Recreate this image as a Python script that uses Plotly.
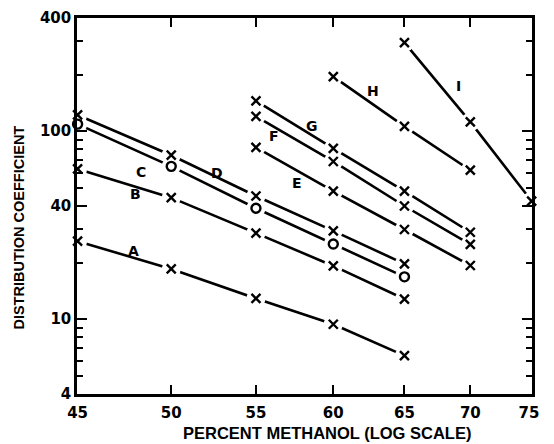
import numpy as np
import plotly.graph_objects as go

# ---- data ----
x_ad = [45, 50, 55, 60, 65]
x_eg = [55, 60, 65, 70]
x_h = [60, 65, 70]
x_i = [65, 70, 75]

A = [26, 18.5, 12.9, 9.4, 6.4]
B = [63, 44.3, 28.7, 19.2, 12.8]
C = [109, 65, 38.9, 25.1, 16.8]
D = [122, 74.5, 45.2, 29.5, 19.7]
E = [82, 48, 30, 19.3]
F = [120, 69, 40, 25]
G = [145, 81, 48, 29]
H = [195, 106, 62]
I = [296, 112, 42.5]

series_names = ["A", "B", "C", "D", "E", "F", "G", "H", "I"]
series_x = [x_ad, x_ad, x_ad, x_ad, x_eg, x_eg, x_eg, x_h, x_i]
series_y = [A, B, C, D, E, F, G, H, I]
series_marker = ["x", "x", "o", "x", "x", "x", "x", "x", "x"]

label_x = [47.9, 48.05, 48.3, 52.66, 57.6, 56.15, 58.6, 62.75, 69.05]
label_y = [23.1, 46.3, 60.5, 59.8, 52.9, 94, 107, 164, 175]
label_text = ["A", "B", "C", "D", "E", "F", "G", "H", "I"]

x_ticks = [45, 50, 55, 60, 65, 70, 75]
x_ticktext = ["45", "50", "55", "60", "65", "70", "75\u00a0"]
y_ticks = [4, 10, 40, 100, 400]
y_minor = [5, 6, 7, 8, 9, 20, 30, 50, 60, 70, 80, 90, 200, 300]

FONT = "DejaVu Sans"
TITLE_FONT = "Liberation Sans"

fig = go.Figure()

# lines
for xs, ys in zip(series_x, series_y):
    fig.add_trace(go.Scatter(x=xs, y=ys, mode="lines",
                             line=dict(color="black", width=2.6),
                             showlegend=False, hoverinfo="skip"))
# white gaps around markers
for xs, ys in zip(series_x, series_y):
    fig.add_trace(go.Scatter(x=xs, y=ys, mode="markers", cliponaxis=False,
                             marker=dict(symbol="circle", size=19, color="white",
                                         line=dict(width=0)),
                             showlegend=False, hoverinfo="skip"))
# markers
for xs, ys, mk in zip(series_x, series_y, series_marker):
    sym = "circle-open" if mk == "o" else "x-thin-open"
    fig.add_trace(go.Scatter(x=xs, y=ys, mode="markers", cliponaxis=False,
                             marker=dict(symbol=sym, size=9, color="black",
                                         line=dict(width=2.4, color="black")),
                             showlegend=False, hoverinfo="skip"))

for lx, ly, lt in zip(label_x, label_y, label_text):
    fig.add_annotation(x=np.log10(lx), y=np.log10(ly), text=lt, showarrow=False,
                       font=dict(family=FONT, size=14, color="black", weight="bold"))

# axis titles
fig.add_annotation(xref="paper", yref="paper", x=-0.128, y=0.442,
                   xanchor="center", yanchor="middle", borderpad=0,
                   text="DISTRIBUTION COEFFICIENT", textangle=-90, showarrow=False,
                   font=dict(family=TITLE_FONT, size=14.5, color="black", weight="bold"))
fig.add_annotation(xref="paper", yref="paper", x=0.55, y=-0.105,
                   xanchor="center", yanchor="middle", borderpad=0,
                   text="PERCENT METHANOL (LOG SCALE)", showarrow=False,
                   font=dict(family=TITLE_FONT, size=16.5, color="black", weight="bold"))

fig.update_layout(
    width=554, height=444,
    margin=dict(l=77, r=9, t=16, b=50),
    paper_bgcolor="white", plot_bgcolor="white",
    font=dict(family=FONT, color="black"),
)
fig.update_xaxes(
    type="log", range=[np.log10(44.97), np.log10(75.03)],
    tickmode="array", tickvals=x_ticks, ticktext=x_ticktext,
    ticks="inside", ticklen=9, tickwidth=2, tickcolor="black",
    ticklabeloverflow="allow", ticklabelstandoff=3,
    showline=True, linecolor="black", linewidth=2.5, mirror="ticks",
    showgrid=False, zeroline=False,
    tickfont=dict(family=FONT, size=15, color="black", weight="bold"),
)
fig.update_yaxes(
    type="log", range=[np.log10(4), np.log10(400)],
    tickmode="array", tickvals=y_ticks, ticktext=[str(v) for v in y_ticks],
    ticks="inside", ticklen=10, tickwidth=2, tickcolor="black",
    minor=dict(tickmode="array", tickvals=y_minor, ticks="inside", ticklen=6,
               tickwidth=2, tickcolor="black", showgrid=False),
    showline=True, linecolor="black", linewidth=2.5, mirror="ticks",
    showgrid=False, zeroline=False,
    tickfont=dict(family=FONT, size=15, color="black", weight="bold"),
)

fig.write_html("out.html",
               config={"displayModeBar": False},
               post_script="document.body.style.margin='0';"
                           "document.body.style.overflow='hidden';")
